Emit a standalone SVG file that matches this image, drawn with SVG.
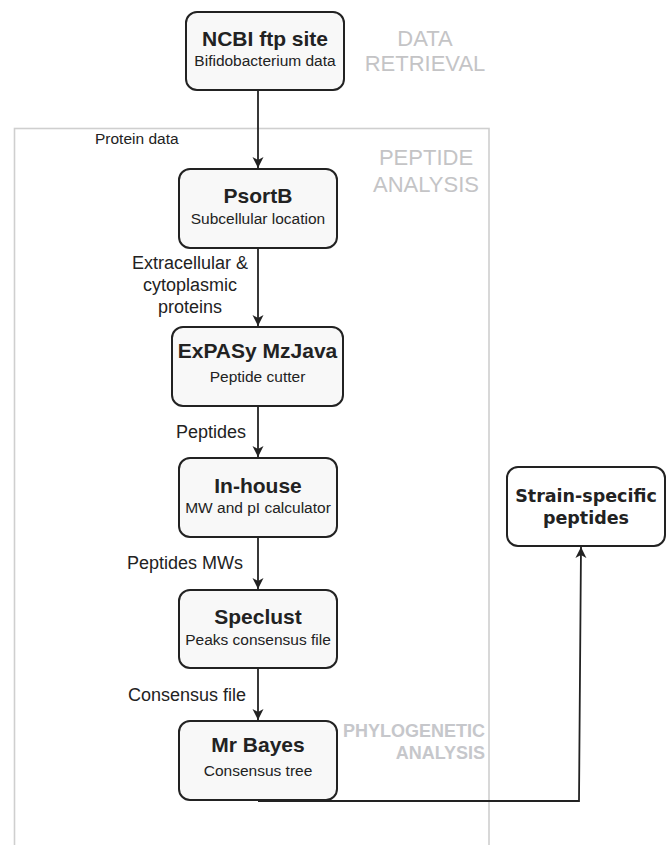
<svg xmlns="http://www.w3.org/2000/svg" width="670" height="845" viewBox="0 0 670 845">
<defs>
<marker id="ah" viewBox="0 0 12 12" refX="11" refY="6" markerWidth="12" markerHeight="12" markerUnits="userSpaceOnUse" orient="auto">
<path d="M0,0.5 L11,6 L0,11.5 L3,6 Z" fill="#222"/>
</marker>
<style>
.box{fill:#f8f8f8;stroke:#222;stroke-width:2}
.t{font-family:"Liberation Sans",Arial,sans-serif;font-weight:bold;font-size:21px;fill:#222;text-anchor:middle}
.s{font-family:"Liberation Sans",Arial,sans-serif;font-size:15.5px;fill:#222;text-anchor:middle}
.e{font-family:"Liberation Sans",Arial,sans-serif;font-size:18px;fill:#222}
.g{font-family:"Liberation Sans",Arial,sans-serif;font-size:22px;fill:#c4c4c6;text-anchor:middle}
.p{font-family:"Liberation Sans",Arial,sans-serif;font-weight:bold;font-size:18px;fill:#c6c7cb;text-anchor:end}
.c{fill:none;stroke:#222;stroke-width:1.8}
</style>
</defs>
<rect x="14.5" y="128.5" width="474.5" height="730" fill="none" stroke="#cfcfcf" stroke-width="1.6"/>
<g id="labels-sections">
<text class="g" x="425" y="46">DATA</text>
<text class="g" x="425" y="71">RETRIEVAL</text>
<text class="g" x="426" y="165">PEPTIDE</text>
<text class="g" x="426" y="192">ANALYSIS</text>
<text class="p" x="485" y="737">PHYLOGENETIC</text>
<text class="p" x="485" y="759">ANALYSIS</text>
</g>
<g id="connectors">
<line class="c" x1="258" y1="90" x2="258" y2="168" marker-end="url(#ah)"/>
<line class="c" x1="258" y1="248" x2="258" y2="326" marker-end="url(#ah)"/>
<line class="c" x1="258" y1="406" x2="258" y2="457" marker-end="url(#ah)"/>
<line class="c" x1="258" y1="537" x2="258" y2="589" marker-end="url(#ah)"/>
<line class="c" x1="258" y1="668" x2="258" y2="720" marker-end="url(#ah)"/>
<path class="c" d="M258,801 L579,801 L581,547" marker-end="url(#ah)"/>
<text class="s" x="95" y="144" style="text-anchor:start">Protein data</text>
<text class="e" x="190" y="269" text-anchor="middle">Extracellular &amp;</text>
<text class="e" x="190" y="291" text-anchor="middle">cytoplasmic</text>
<text class="e" x="190" y="313" text-anchor="middle">proteins</text>
<text class="e" x="176" y="438">Peptides</text>
<text class="e" x="127" y="569">Peptides MWs</text>
<text class="e" x="128" y="701">Consensus file</text>
</g>
<g id="ncbi">
<rect class="box" x="186" y="12" width="158" height="78" rx="11"/>
<text class="t" x="265" y="46">NCBI ftp site</text>
<text class="s" x="265" y="66">Bifidobacterium data</text>
</g>
<g id="psortb">
<rect class="box" x="179" y="169" width="158" height="79" rx="11"/>
<text class="t" x="258" y="203">PsortB</text>
<text class="s" x="258" y="224">Subcellular location</text>
</g>
<g id="expasy">
<rect class="box" x="172" y="327" width="171" height="79" rx="11"/>
<text class="t" x="257.5" y="358">ExPASy MzJava</text>
<text class="s" x="257.5" y="382">Peptide cutter</text>
</g>
<g id="inhouse">
<rect class="box" x="179" y="458" width="158" height="79" rx="11"/>
<text class="t" x="258" y="493">In-house</text>
<text class="s" x="258" y="513">MW and pI calculator</text>
</g>
<g id="speclust">
<rect class="box" x="179" y="590" width="158" height="78" rx="11"/>
<text class="t" x="258" y="624">Speclust</text>
<text class="s" x="258" y="645">Peaks consensus file</text>
</g>
<g id="mrbayes">
<rect class="box" x="179" y="721" width="158" height="79" rx="11"/>
<text class="t" x="258" y="752">Mr Bayes</text>
<text class="s" x="258" y="776">Consensus tree</text>
</g>
<g id="strain">
<rect x="507" y="467" width="158" height="79" rx="11" fill="#fff" stroke="#222" stroke-width="2"/>
<text x="586" y="502" text-anchor="middle" font-family="'DejaVu Sans',Verdana,sans-serif" font-weight="bold" font-size="17.5" fill="#222">Strain-specific</text>
<text x="586" y="524" text-anchor="middle" font-family="'DejaVu Sans',Verdana,sans-serif" font-weight="bold" font-size="17.5" fill="#222">peptides</text>
</g>
</svg>
